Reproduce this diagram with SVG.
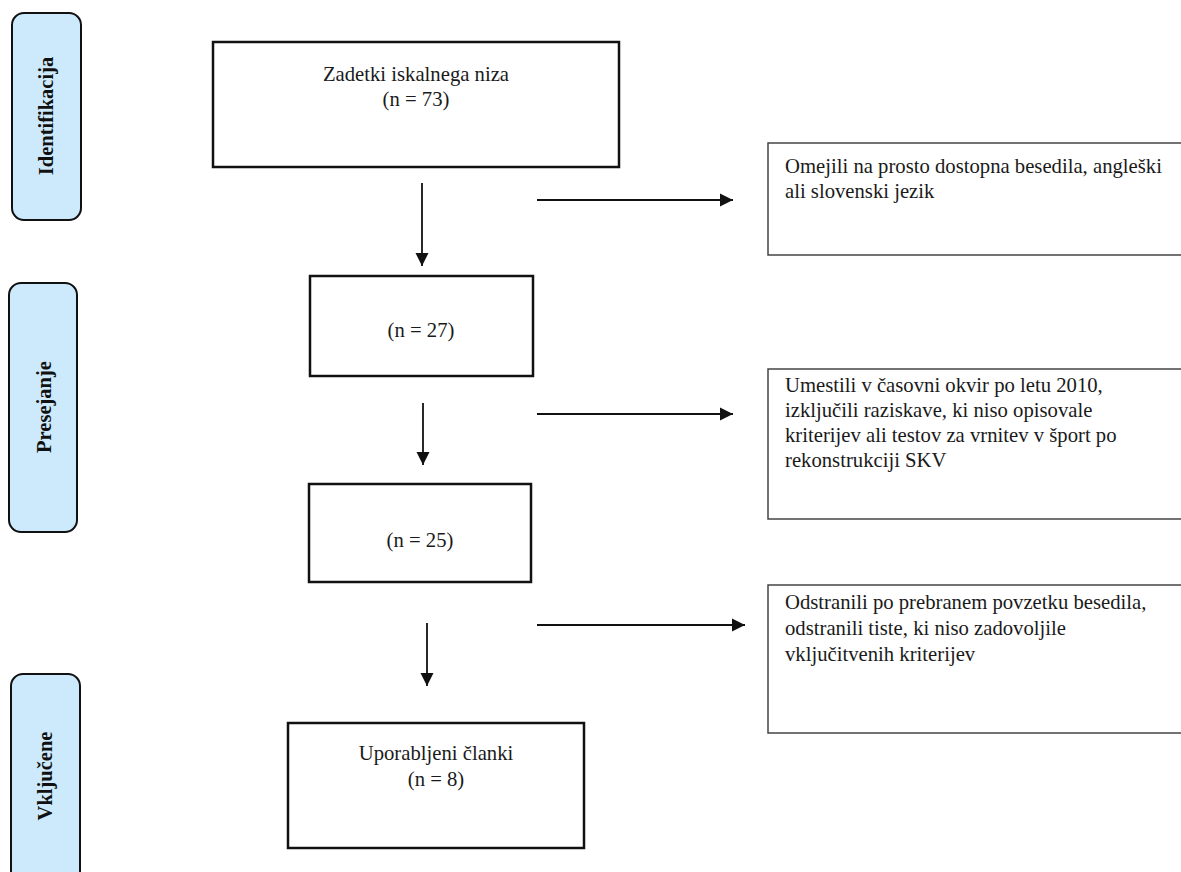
<svg xmlns="http://www.w3.org/2000/svg" width="1181" height="872" viewBox="0 0 1181 872">
<defs>
<style>
.stage{fill:#cdeafd;stroke:#111;stroke-width:2}
.stxt{font-family:"Liberation Serif",serif;font-size:20.5px;font-weight:bold;fill:#111;text-anchor:middle}
.main{fill:#fff;stroke:#111;stroke-width:2.5}
.side{fill:#fff;stroke:#444;stroke-width:1.5}
.t{font-family:"Liberation Serif",serif;font-size:20.7px;fill:#1a1a1a}
.c{text-anchor:middle}
.conn{stroke:#111;stroke-width:1.8;fill:none}
</style>
<marker id="ah" viewBox="0 0 10 10" refX="10" refY="5" markerWidth="7.5" markerHeight="7.5" markerUnits="strokeWidth" orient="auto">
<path d="M0,0 L10,5 L0,10 Z" fill="#111"/>
</marker>
</defs>
<rect width="1181" height="872" fill="#fff"/>

<g id="stage-identifikacija">
<rect class="stage" x="12" y="13" width="69" height="207" rx="12"/>
<text class="stxt" transform="translate(53,116) rotate(-90)">Identifikacija</text>
</g>
<g id="stage-presejanje">
<rect class="stage" x="9" y="283" width="68" height="249" rx="12"/>
<text class="stxt" transform="translate(51,407) rotate(-90)">Presejanje</text>
</g>
<g id="stage-vkljucene">
<rect class="stage" x="11" y="674" width="69" height="220" rx="12"/>
<text class="stxt" transform="translate(52,776) rotate(-90)">Vključene</text>
</g>

<g id="box-zadetki">
<rect class="main" x="213" y="42" width="406" height="125"/>
<text class="t c" x="416" y="81">Zadetki iskalnega niza</text>
<text class="t c" x="416" y="106">(n = 73)</text>
</g>
<g id="box-n27">
<rect class="main" x="310" y="276" width="223" height="100"/>
<text class="t c" x="421" y="337">(n = 27)</text>
</g>
<g id="box-n25">
<rect class="main" x="309" y="484" width="222" height="98"/>
<text class="t c" x="420" y="547">(n = 25)</text>
</g>
<g id="box-uporabljeni">
<rect class="main" x="288" y="723" width="296" height="125"/>
<text class="t c" x="436" y="760">Uporabljeni članki</text>
<text class="t c" x="436" y="786">(n = 8)</text>
</g>

<g id="box-omejili">
<rect class="side" x="768" y="143" width="420" height="112"/>
<text class="t" x="785" y="173">Omejili na prosto dostopna besedila, angleški</text>
<text class="t" x="785" y="198">ali slovenski jezik</text>
</g>
<g id="box-umestili">
<rect class="side" x="768" y="369" width="420" height="150"/>
<text class="t" x="785" y="392">Umestili v časovni okvir po letu 2010,</text>
<text class="t" x="785" y="417">izključili raziskave, ki niso opisovale</text>
<text class="t" x="785" y="442">kriterijev ali testov za vrnitev v šport po</text>
<text class="t" x="785" y="467">rekonstrukciji SKV</text>
</g>
<g id="box-odstranili">
<rect class="side" x="768" y="585" width="420" height="148"/>
<text class="t" x="785" y="609">Odstranili po prebranem povzetku besedila,</text>
<text class="t" x="785" y="635">odstranili tiste, ki niso zadovoljile</text>
<text class="t" x="785" y="661">vključitvenih kriterijev</text>
</g>

<g id="connectors">
<line class="conn" x1="422" y1="183" x2="422" y2="266" marker-end="url(#ah)"/>
<line class="conn" x1="423" y1="403" x2="423" y2="465" marker-end="url(#ah)"/>
<line class="conn" x1="427" y1="623" x2="427" y2="686" marker-end="url(#ah)"/>
<line class="conn" x1="537" y1="200" x2="733" y2="200" marker-end="url(#ah)" stroke-width="1.4"/>
<line class="conn" x1="537" y1="414" x2="733" y2="414" marker-end="url(#ah)" stroke-width="1.4"/>
<line class="conn" x1="537" y1="625" x2="745" y2="625" marker-end="url(#ah)" stroke-width="1.4"/>
</g>
</svg>
